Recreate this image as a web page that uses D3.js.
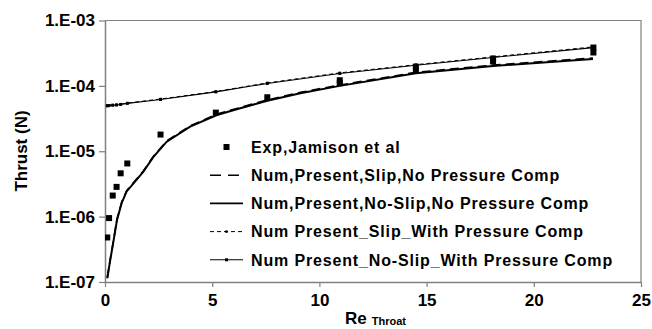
<!DOCTYPE html>
<html>
<head>
<meta charset="utf-8">
<script src="https://cdn.jsdelivr.net/npm/d3@7"></script>
<style>
  html, body { margin: 0; padding: 0; background: #fff; }
  svg { display: block; }
  text { font-family: "Liberation Sans", Arial, sans-serif; fill: #000; }
</style>
</head>
<body>
<svg id="chart" width="652" height="329"></svg>
<script>
// Experimental thrust (Jamison et al) vs throat Reynolds number
const reExp = [0.107, 0.19, 0.36, 0.54, 0.73, 1.04, 2.59, 5.17, 7.57, 10.95, 10.95, 14.5, 14.5, 18.1, 18.1, 22.78, 22.78];
const thrustExp = [4.8e-7, 9.5e-7, 2.1e-6, 2.85e-6, 4.6e-6, 6.5e-6, 1.8e-5, 3.9e-5, 6.7e-5, 1.10e-4, 1.22e-4, 1.71e-4, 1.97e-4, 2.36e-4, 2.62e-4, 3.24e-4, 3.86e-4];

// Numerical results without pressure compensation
const reNoP = [0.107, 0.23, 0.39, 0.56, 0.78, 1.01, 1.4, 1.79, 2.26, 2.88, 3.97, 5.22, 6.31, 7.57, 9.11, 10.95, 14.5, 18.1, 22.76];
const slipNoP = [1.17e-7, 2.1e-7, 4.2e-7, 9.2e-7, 1.67e-6, 2.5e-6, 3.53e-6, 5.0e-6, 8.4e-6, 1.44e-5, 2.45e-5, 3.7e-5, 4.68e-5, 6.1e-5, 7.95e-5, 1.03e-4, 1.61e-4, 2.08e-4, 2.67e-4];
const noSlipNoP = [1.14e-7, 2.03e-7, 4.1e-7, 8.9e-7, 1.62e-6, 2.43e-6, 3.43e-6, 4.87e-6, 8.2e-6, 1.40e-5, 2.38e-5, 3.59e-5, 4.54e-5, 5.94e-5, 7.7e-5, 1.0e-4, 1.56e-4, 2.01e-4, 2.58e-4];

// Numerical results with pressure compensation
const reWithP = [0.107, 0.19, 0.36, 0.54, 0.73, 1.04, 2.59, 5.17, 7.57, 10.95, 14.5, 18.1, 22.78];
const slipWithP = [5.0e-5, 5.05e-5, 5.1e-5, 5.15e-5, 5.25e-5, 5.45e-5, 6.3e-5, 8.2e-5, 1.11e-4, 1.58e-4, 2.11e-4, 2.78e-4, 3.95e-4];
const noSlipWithP = [4.95e-5, 5.0e-5, 5.05e-5, 5.1e-5, 5.2e-5, 5.4e-5, 6.2e-5, 8.1e-5, 1.09e-4, 1.55e-4, 2.07e-4, 2.72e-4, 3.85e-4];

const xTicks = [0, 5, 10, 15, 20, 25];
const yTicks = [1e-7, 1e-6, 1e-5, 1e-4, 1e-3];
const yTickLabels = ["1.E-07", "1.E-06", "1.E-05", "1.E-04", "1.E-03"];

const legendLabels = [
  "Exp,Jamison et al",
  "Num,Present,Slip,No Pressure Comp",
  "Num,Present,No-Slip,No Pressure Comp",
  "Num Present_Slip_With Pressure Comp",
  "Num Present_No-Slip_With Pressure Comp"
];

const svg = d3.select("#chart");
const plot = { left: 105, right: 641, top: 20.5, bottom: 282 };

const x = d3.scaleLinear().domain([0, 25]).range([plot.left, plot.right]);
const y = d3.scaleLog().domain([1e-7, 1e-3]).range([plot.bottom, plot.top]);

const axisColor = "#808080";

// frame (top and right)
svg.append("path")
  .attr("d", `M${plot.left},${plot.top}H${plot.right}V${plot.bottom}`)
  .attr("fill", "none").attr("stroke", axisColor).attr("stroke-width", 1.2);

// x axis
const gx = svg.append("g").attr("transform", `translate(0,${plot.bottom})`)
  .call(d3.axisBottom(x).tickValues(xTicks).tickSize(5).tickSizeOuter(0).tickPadding(4).tickFormat(d3.format("d")));
// y axis
const gy = svg.append("g").attr("transform", `translate(${plot.left},0)`)
  .call(d3.axisLeft(y).tickValues(yTicks).tickSize(6).tickSizeOuter(0).tickPadding(4)
    .tickFormat((d, i) => yTickLabels[i]));

[gx, gy].forEach(g => {
  g.select(".domain").attr("stroke", axisColor).attr("stroke-width", 1.5);
  g.selectAll(".tick line").attr("stroke", axisColor).attr("stroke-width", 1.2);
  g.selectAll(".tick text").attr("fill", "#000")
    .style("font-family", '"Liberation Sans", Arial, sans-serif')
    .style("font-size", "17px").style("font-weight", "bold");
});
gx.selectAll(".tick text").attr("dy", "0.9em");

// axis titles
svg.append("text")
  .attr("transform", `translate(27,151) rotate(-90)`)
  .attr("text-anchor", "middle")
  .style("font-size", "17px").style("font-weight", "bold")
  .text("Thrust (N)");

const xt = svg.append("text").attr("x", 345).attr("y", 324)
  .style("font-size", "17px").style("font-weight", "bold");
xt.append("tspan").text("Re");
xt.append("tspan").attr("dx", 5).attr("dy", 1).style("font-size", "11px").text("Throat");

const line = d3.line().x(d => x(d[0])).y(d => y(d[1]));
const zip = (xs, ys) => xs.map((v, i) => [v, ys[i]]);

svg.append("clipPath").attr("id", "plotClip").append("rect")
  .attr("x", plot.left).attr("y", plot.top)
  .attr("width", plot.right - plot.left).attr("height", plot.bottom - plot.top);
const g = svg.append("g").attr("clip-path", "url(#plotClip)");

// no pressure compensation curves
g.append("path").datum(zip(reNoP, noSlipNoP)).attr("d", line)
  .attr("fill", "none").attr("stroke", "#000").attr("stroke-width", 2);
g.append("path").datum(zip(reNoP, slipNoP)).attr("d", line)
  .attr("fill", "none").attr("stroke", "#000").attr("stroke-width", 1.6)
  .attr("stroke-dasharray", "9,5");

// with pressure compensation curves
g.append("path").datum(zip(reWithP, noSlipWithP)).attr("d", line)
  .attr("fill", "none").attr("stroke", "#000").attr("stroke-width", 1.1);
g.append("path").datum(zip(reWithP, slipWithP)).attr("d", line)
  .attr("fill", "none").attr("stroke", "#000").attr("stroke-width", 1)
  .attr("stroke-dasharray", "4,3");

g.selectAll("rect.mk1").data(zip(reWithP, noSlipWithP)).join("rect").attr("class", "mk1")
  .attr("x", d => x(d[0]) - 1.5).attr("y", d => y(d[1]) - 1.5)
  .attr("width", 3).attr("height", 3).attr("fill", "#000");
g.selectAll("rect.mk2").data(zip(reWithP, slipWithP)).join("rect").attr("class", "mk2")
  .attr("x", d => x(d[0]) - 1.2).attr("y", d => y(d[1]) - 1.2)
  .attr("width", 2.4).attr("height", 2.4).attr("fill", "#000");

// experimental points
g.selectAll("rect.exp").data(zip(reExp, thrustExp)).join("rect").attr("class", "exp")
  .attr("x", d => x(d[0]) - 3).attr("y", d => y(d[1]) - 3)
  .attr("width", 6).attr("height", 6).attr("fill", "#000");

// legend
const lg = svg.append("g");
const lx0 = 210, lx1 = 243, ltx = 251, ly0 = 147, ldy = 28.2;
legendLabels.forEach((lab, i) => {
  const yy = ly0 + i * ldy;
  if (i === 0) {
    lg.append("rect").attr("x", (lx0 + lx1) / 2 - 3).attr("y", yy - 3).attr("width", 6).attr("height", 6).attr("fill", "#000");
  } else if (i === 1) {
    lg.append("line").attr("x1", lx0).attr("x2", lx1).attr("y1", yy).attr("y2", yy)
      .attr("stroke", "#000").attr("stroke-width", 1.6).attr("stroke-dasharray", "11,7");
  } else if (i === 2) {
    lg.append("line").attr("x1", lx0).attr("x2", lx1).attr("y1", yy).attr("y2", yy)
      .attr("stroke", "#000").attr("stroke-width", 1.8);
  } else if (i === 3) {
    lg.append("line").attr("x1", lx0).attr("x2", lx1).attr("y1", yy).attr("y2", yy)
      .attr("stroke", "#000").attr("stroke-width", 1).attr("stroke-dasharray", "4,3");
    lg.append("rect").attr("x", (lx0 + lx1) / 2 - 1.2).attr("y", yy - 1.2).attr("width", 2.4).attr("height", 2.4).attr("fill", "#000");
  } else {
    lg.append("line").attr("x1", lx0).attr("x2", lx1).attr("y1", yy).attr("y2", yy)
      .attr("stroke", "#000").attr("stroke-width", 1.1);
    lg.append("rect").attr("x", (lx0 + lx1) / 2 - 1.5).attr("y", yy - 1.5).attr("width", 3).attr("height", 3).attr("fill", "#000");
  }
  lg.append("text").attr("x", ltx).attr("y", yy).attr("dy", "0.36em")
    .style("font-size", "16px").style("font-weight", "bold").style("letter-spacing", "0.85px")
    .text(lab);
});
</script>
</body>
</html>
